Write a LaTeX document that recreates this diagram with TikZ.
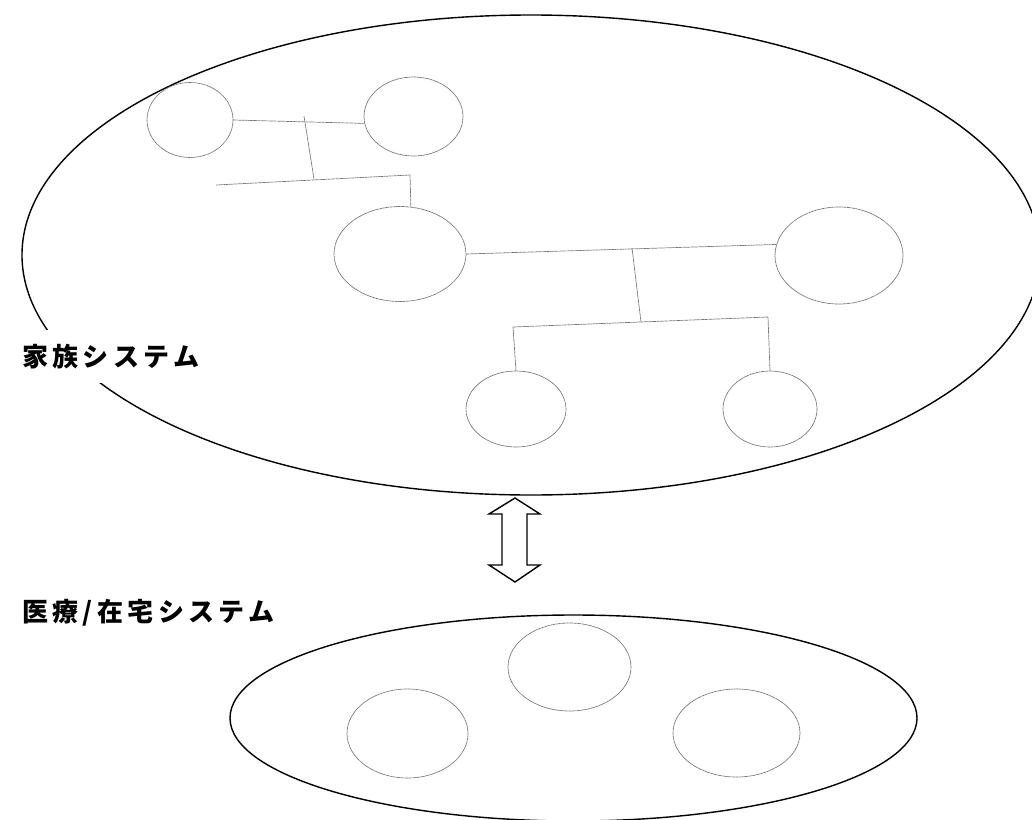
\documentclass[tikz,border=0pt]{standalone}
\usepackage{fontspec}
\newfontfamily\cjk{Noto Sans CJK JP}[LetterSpace=17]
\usetikzlibrary{shapes.geometric}
\tikzset{
  sys/.style={draw=black, line width=1.4pt, ellipse, inner sep=0pt},
  person/.style={draw=black!55, line width=0.7pt, dash pattern=on 1.2pt off 0.4pt, ellipse, inner sep=0pt, fill=white},
  kin/.style={draw=black!55, line width=0.7pt, dash pattern=on 1.2pt off 0.4pt},
  label/.style={font=\cjk\bfseries\fontsize{26pt}{30pt}\selectfont, anchor=west, inner sep=0pt, outer sep=0pt},
  arrowbox/.style={draw=black, line width=1.4pt, fill=white, line join=miter}
}
\begin{document}
\begin{tikzpicture}[x={(1pt,0)}, y={(0,-1pt)}]
\useasboundingbox (0,0) rectangle (1032,819);
\clip (0,0) rectangle (1032,819);
% systems
\node[sys, minimum width=1018pt, minimum height=480pt] (fam) at (531,255) {};
\node[sys, minimum width=687pt, minimum height=206pt] (med) at (573.5,718) {};
% white patch behind the family label
\fill[white] (18,330) rectangle (205,383);
\node[label] (famlabel) at (22,357) {家族システム};
\node[label] (medlabel) at (22,613) {医療/在宅システム};
% family members
\node[person, minimum width=86pt, minimum height=75pt] (e1) at (190,120) {};
\node[person, minimum width=99pt, minimum height=79pt] (e2) at (413.5,116.5) {};
\node[person, minimum width=132pt, minimum height=95pt] (e3) at (400,254) {};
\node[person, minimum width=128pt, minimum height=97pt] (e4) at (839,255.5) {};
\node[person, minimum width=100pt, minimum height=76pt] (e5) at (516,409) {};
\node[person, minimum width=94pt, minimum height=76pt] (e6) at (770,409) {};
% kinship lines
\coordinate (j1) at (304,116);
\coordinate (j2) at (314,179);
\coordinate (h1) at (216,185);
\coordinate (h2) at (410,175);
\draw[kin] (e1.east) -- (e2.188);
\draw[kin] (j1) -- (j2);
\draw[kin] (h1) -- (h2) -- (e3.77);
\coordinate (j3) at (632,248);
\coordinate (j4) at (641,322);
\coordinate (h3) at (513,327);
\coordinate (h4) at (768,317);
\draw[kin] (e3.east) -- (e4.170);
\draw[kin] (j3) -- (j4);
\draw[kin] (e5.north) -- (h3) -- (h4) -- (e6.north);
% medical members
\node[person, minimum width=123pt, minimum height=88pt] (m1) at (569.5,667) {};
\node[person, minimum width=121pt, minimum height=89pt] (m2) at (407.5,733.5) {};
\node[person, minimum width=127pt, minimum height=88pt] (m3) at (736.5,733) {};
% double arrow
\coordinate (at) at (515,498);
\coordinate (ab) at (515,582);
\draw[arrowbox] (at) -- (540,514) -- (527,514) -- (527,565) -- (540,565) -- (ab)
  -- (489,565) -- (502,565) -- (502,514) -- (489,514) -- cycle;
\end{tikzpicture}
\end{document}
